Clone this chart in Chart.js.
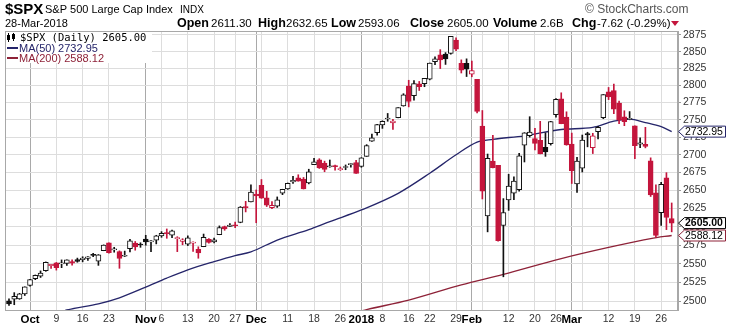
<!DOCTYPE html>
<html>
<head>
<meta charset="utf-8">
<script src="https://cdn.jsdelivr.net/npm/chart.js@4.4.1/dist/chart.umd.min.js"></script>
<style>
  html, body { margin: 0; padding: 0; background: #fff; }
  canvas { display: block; }
</style>
</head>
<body>
<canvas id="spx" width="730" height="328"></canvas>
<script>
// $SPX daily candles, 26-Sep-2017 .. 28-Mar-2018 (one entry per trading day, x = day index)
const PREV_CLOSE = 2496.66; // close of the day before the first candle

const OPEN = [
  2501.04, 2503.30, 2503.41, 2509.96,
  2521.20, 2530.34, 2533.48, 2540.86, 2547.44, 2551.39, 2549.99, 2550.62, 2552.88, 2555.66,
  2555.57, 2557.17, 2562.87, 2553.39, 2567.56, 2578.08, 2568.66, 2566.52, 2560.08, 2570.26,
  2577.75, 2575.99,
  2583.21, 2579.46, 2581.93, 2587.47, 2592.11, 2588.71, 2584.00, 2580.18, 2576.53, 2577.75,
  2569.45, 2572.95, 2582.94, 2579.49, 2589.17, 2600.31, 2600.42, 2602.66, 2605.94, 2627.82, 2633.93,
  2645.10, 2657.19, 2639.78, 2626.24, 2628.38, 2646.21, 2652.19, 2661.73, 2667.59, 2665.87,
  2660.63, 2685.92, 2692.71, 2688.18, 2683.02, 2684.22, 2679.09, 2682.10, 2686.10, 2689.15,
  2683.73, 2697.85, 2719.31, 2731.33, 2742.67, 2751.15, 2745.55, 2752.97, 2770.18, 2798.96,
  2784.99, 2802.40, 2802.60, 2809.16, 2835.05, 2845.42, 2846.24, 2847.48, 2867.23, 2832.74, 2832.41,
  2816.45, 2808.92, 2741.06, 2614.78, 2690.95, 2685.01, 2601.78, 2636.75, 2646.27, 2651.21,
  2713.46, 2727.14, 2722.99, 2720.53, 2710.42, 2715.80, 2757.37, 2780.45, 2753.78,
  2715.22, 2658.89, 2681.06, 2730.18, 2710.18, 2732.75, 2752.91, 2790.54, 2792.31, 2774.06,
  2754.27, 2750.57, 2741.38, 2715.05, 2714.99, 2691.36, 2646.71, 2619.35, 2667.57, 2611.30
];
const HIGH = [
  2503.51, 2511.75, 2510.81, 2519.44,
  2529.23, 2535.13, 2540.53, 2552.51, 2549.41, 2551.82, 2555.23, 2555.24, 2555.33, 2557.65,
  2559.47, 2559.71, 2564.11, 2562.36, 2575.44, 2578.29, 2572.18, 2567.40, 2567.07, 2582.98,
  2580.03, 2578.29,
  2588.40, 2581.11, 2588.42, 2593.38, 2597.02, 2595.47, 2586.50, 2583.81, 2587.66, 2579.66,
  2572.84, 2590.09, 2583.96, 2584.64, 2601.19, 2600.94, 2604.21, 2606.41, 2627.69, 2634.89, 2657.74,
  2650.62, 2665.19, 2648.72, 2634.41, 2640.99, 2651.65, 2660.33, 2669.72, 2671.88, 2668.09,
  2679.63, 2694.97, 2694.44, 2691.01, 2692.64, 2685.35, 2682.74, 2685.64, 2687.66, 2692.12,
  2695.89, 2714.37, 2729.29, 2743.45, 2748.51, 2759.14, 2750.80, 2767.56, 2787.85, 2807.54,
  2807.04, 2805.83, 2810.33, 2833.03, 2842.24, 2852.97, 2848.56, 2872.87, 2870.62, 2837.75, 2839.26,
  2835.96, 2808.92, 2763.39, 2701.04, 2727.67, 2685.27, 2638.67, 2672.61, 2668.84, 2702.10,
  2731.51, 2754.42, 2737.60, 2747.75, 2731.26, 2747.76, 2780.64, 2789.15, 2761.52,
  2730.89, 2696.25, 2728.09, 2732.08, 2730.60, 2740.45, 2786.57, 2796.98, 2801.90, 2777.11,
  2763.03, 2761.85, 2741.38, 2724.22, 2739.14, 2695.68, 2657.67, 2661.36, 2674.78, 2632.65
];
const LOW = [
  2495.12, 2495.91, 2502.93, 2507.99,
  2520.40, 2528.85, 2531.80, 2540.02, 2543.79, 2541.60, 2544.86, 2547.95, 2548.31, 2552.09,
  2552.64, 2554.69, 2559.67, 2547.92, 2567.56, 2564.33, 2565.58, 2544.00, 2559.80, 2565.94,
  2568.25, 2572.15,
  2574.92, 2566.17, 2576.77, 2585.66, 2584.35, 2585.02, 2566.33, 2575.57, 2574.48, 2566.56,
  2557.45, 2572.95, 2577.62, 2578.24, 2589.17, 2595.23, 2600.42, 2598.87, 2605.44, 2620.32, 2633.93,
  2605.52, 2639.03, 2627.73, 2624.75, 2626.53, 2644.10, 2651.47, 2659.78, 2662.85, 2652.01,
  2659.14, 2685.92, 2680.74, 2676.11, 2682.40, 2678.13, 2677.96, 2678.91, 2682.69, 2673.61,
  2682.36, 2697.77, 2719.07, 2727.92, 2737.60, 2747.86, 2736.06, 2752.78, 2769.64, 2768.64,
  2778.38, 2792.56, 2798.08, 2808.12, 2830.59, 2824.81, 2830.94, 2846.18, 2851.48, 2818.27, 2813.04,
  2812.70, 2759.97, 2638.17, 2593.07, 2681.33, 2580.56, 2532.69, 2622.45, 2637.08, 2648.87,
  2689.82, 2725.11, 2706.76, 2701.29, 2697.77, 2713.74, 2753.78, 2744.22, 2713.54,
  2659.65, 2647.32, 2675.75, 2711.26, 2701.74, 2722.65, 2751.54, 2779.26, 2758.68, 2744.38,
  2741.47, 2749.97, 2694.59, 2710.05, 2709.79, 2641.59, 2585.89, 2601.81, 2596.12, 2593.06
];
const CLOSE = [
  2496.84, 2507.04, 2510.06, 2519.36,
  2529.12, 2534.58, 2537.74, 2552.07, 2549.33, 2544.73, 2550.64, 2555.24, 2550.93, 2553.17,
  2557.64, 2559.36, 2561.26, 2562.10, 2575.21, 2564.98, 2569.13, 2557.15, 2560.40, 2581.07,
  2572.83, 2575.26,
  2579.36, 2579.85, 2587.84, 2591.13, 2590.64, 2594.38, 2584.62, 2582.30, 2584.84, 2578.87,
  2564.62, 2585.64, 2578.85, 2582.14, 2599.03, 2597.08, 2602.42, 2601.42, 2627.04, 2626.07, 2647.58,
  2642.22, 2639.44, 2629.57, 2629.27, 2636.98, 2651.50, 2659.99, 2664.11, 2662.85, 2652.01,
  2675.81, 2690.16, 2681.47, 2679.25, 2684.57, 2683.34, 2680.50, 2682.62, 2687.54, 2673.61,
  2695.81, 2713.06, 2723.99, 2743.15, 2747.71, 2751.29, 2748.23, 2767.56, 2786.24, 2776.42,
  2802.56, 2798.03, 2810.30, 2832.97, 2839.13, 2837.54, 2839.25, 2872.87, 2853.53, 2822.43, 2823.81,
  2821.98, 2762.13, 2648.94, 2695.14, 2681.66, 2581.00, 2619.55, 2656.00, 2662.94, 2698.63,
  2731.20, 2732.22, 2716.26, 2701.33, 2703.96, 2747.30, 2779.60, 2744.28, 2713.83,
  2677.67, 2691.25, 2720.94, 2728.12, 2726.80, 2738.97, 2786.57, 2783.02, 2765.31, 2749.48,
  2747.33, 2752.01, 2712.92, 2716.94, 2711.93, 2643.69, 2588.26, 2658.55, 2612.62, 2605.00
];

// moving averages (day index -> value)
const MA50_IDX = [9, 11, 17, 21, 26, 30, 34, 39, 43, 46, 51, 57, 61, 67, 74, 80, 85, 89, 92, 98, 105, 111, 115, 118, 121, 124, 126];
const MA50_VAL = [2484, 2489, 2497, 2505, 2519, 2531, 2542, 2553, 2561, 2566, 2582, 2596, 2607, 2623, 2646, 2674, 2700, 2718, 2722, 2727, 2736, 2739, 2748, 2751, 2746, 2740, 2732.95];
const MA200_IDX = [66, 68, 76, 86, 94, 105, 114, 122, 126];
const MA200_VAL = [2486, 2489.5, 2502, 2522, 2536, 2557, 2572, 2584, 2588.12];

const X_TICK_POS = [4, 9, 14, 19, 26, 29, 34, 39, 43, 47, 48, 53, 58, 63, 67, 71, 76, 80, 85, 88, 90, 95, 100, 104, 107, 109, 114, 119, 124];
const X_TICK_LABELS = ['Oct', '9', '16', '23', 'Nov', '6', '13', '20', '27', 'Dec', '', '11', '18', '26', '2018', '8', '16', '22', '29', 'Feb', '', '12', '20', '26', 'Mar', '', '12', '19', '26'];
const MONTH_LABELS = ['Oct', 'Nov', 'Dec', '2018', 'Feb', 'Mar'];
const Y_TICKS = [2500, 2525, 2550, 2575, 2600, 2625, 2650, 2675, 2700, 2725, 2750, 2775, 2800, 2825, 2850, 2875];

const SYMBOL = '$SPX', NAME = 'S&P 500 Large Cap Index', EXCHANGE = 'INDX';
const DATE_TEXT = '28-Mar-2018', VOLUME_TEXT = '2.6B';

const UP = '#111111', DOWN = '#c4153c', MA50_COLOR = '#25256a', MA200_COLOR = '#8e2238';
const SANS = '"Liberation Sans", Arial, sans-serif';
const MONO = '"DejaVu Sans Mono", monospace';

const n = CLOSE.length;
const last = n - 1;
const candleColor = CLOSE.map((c, i) => c >= (i ? CLOSE[i - 1] : PREV_CLOSE) ? UP : DOWN);
const candleFill = CLOSE.map((c, i) => c < OPEN[i] ? candleColor[i] : '#ffffff');
const bodies = CLOSE.map((c, i) => ({ x: i, y: [Math.min(OPEN[i], c), Math.max(OPEN[i], c)] }));
const wicks = CLOSE.map((c, i) => ({ x: i, y: [LOW[i], HIGH[i]] }));
const ma50 = MA50_IDX.map((x, i) => ({ x, y: MA50_VAL[i] }));
const ma200 = MA200_IDX.map((x, i) => ({ x, y: MA200_VAL[i] }));
const isMonth = i => MONTH_LABELS.includes(X_TICK_LABELS[i]);

function fmt(v) { return v.toFixed(2); }

// header above the plot, legend inside it, value tags on the price axis
const decorations = {
  id: 'decorations',
  beforeDatasetsDraw(chart) {
    const { ctx, chartArea: a } = chart;
    ctx.save();
    ctx.fillStyle = '#fff';
    ctx.fillRect(a.left + 1, a.top + 1, 146, 31);
    // little candle icon
    ctx.fillStyle = '#000';
    ctx.fillRect(7, 35, 3, 5); ctx.fillRect(8, 33, 1, 9);
    ctx.fillRect(12, 34, 3, 5); ctx.fillRect(13, 33, 1, 8);
    ctx.textBaseline = 'alphabetic';
    ctx.font = '10.5px ' + MONO;
    ctx.fillText(SYMBOL + ' (Daily) ' + fmt(CLOSE[last]), 20, 41);
    ctx.font = '11px ' + SANS;
    ctx.fillStyle = MA50_COLOR;
    ctx.fillRect(7, 47, 11, 2);
    ctx.fillText('MA(50) ' + fmt(MA50_VAL[MA50_VAL.length - 1]), 19, 52);
    ctx.fillStyle = MA200_COLOR;
    ctx.fillRect(7, 57, 11, 2);
    ctx.fillText('MA(200) ' + fmt(MA200_VAL[MA200_VAL.length - 1]), 19, 62);
    ctx.strokeStyle = '#a8a8a8';
    ctx.lineWidth = 1;
    ctx.strokeRect(a.left + 0.5, a.top + 0.5, a.right - a.left - 1, a.bottom - a.top);
    ctx.restore();
  },
  afterDraw(chart) {
    const { ctx, scales } = chart;
    ctx.save();
    ctx.textBaseline = 'alphabetic';
    ctx.fillStyle = '#000';
    ctx.font = 'bold 15px ' + SANS;
    ctx.fillText(SYMBOL, 5, 14);
    ctx.font = '11px ' + SANS;
    ctx.fillText(NAME, 45, 13);
    ctx.font = '10px ' + SANS;
    ctx.fillText(EXCHANGE, 180, 13);
    ctx.font = '11px ' + SANS;
    ctx.fillText(DATE_TEXT, 5, 27);
    ctx.fillStyle = '#555';
    ctx.font = '12px ' + SANS;
    ctx.fillText('\u00A9 StockCharts.com', 585, 13);

    const chg = CLOSE[last] - CLOSE[last - 1];
    const pct = chg / CLOSE[last - 1] * 100;
    const parts = [
      ['Open', 177, true], [fmt(OPEN[last]), 211, false],
      ['High', 258, true], [fmt(HIGH[last]), 286, false],
      ['Low', 331, true], [fmt(LOW[last]), 358, false],
      ['Close', 410, true], [fmt(CLOSE[last]), 447, false],
      ['Volume', 493, true], [VOLUME_TEXT, 540, false],
      ['Chg', 572, true], [chg.toFixed(2) + ' (' + pct.toFixed(2) + '%)', 597, false]
    ];
    ctx.fillStyle = '#000';
    parts.forEach(([t, x, b]) => {
      ctx.font = b ? 'bold 12.5px ' + SANS : '11.5px ' + SANS;
      ctx.fillText(t, x, 27);
    });
    ctx.fillStyle = chg < 0 ? DOWN : UP;
    ctx.beginPath();
    ctx.moveTo(671, 21); ctx.lineTo(679, 21); ctx.lineTo(675, 26); ctx.closePath();
    ctx.fill();

    // value tags on the right axis
    const y = scales.y;
    const tag = (v, color, bold) => {
      const py = y.getPixelForValue(v);
      ctx.beginPath();
      ctx.moveTo(678.5, py);
      ctx.lineTo(684.5, py - 5.5);
      ctx.lineTo(725.5, py - 5.5);
      ctx.lineTo(725.5, py + 5.5);
      ctx.lineTo(684.5, py + 5.5);
      ctx.closePath();
      ctx.fillStyle = '#fff';
      ctx.fill();
      ctx.strokeStyle = color;
      ctx.lineWidth = 1;
      ctx.stroke();
      ctx.fillStyle = '#000';
      ctx.font = (bold ? 'bold ' : '') + '10.5px ' + SANS;
      ctx.textBaseline = 'middle';
      ctx.fillText(fmt(v), 685, py + 0.5);
    };
    tag(MA50_VAL[MA50_VAL.length - 1], MA50_COLOR, false);
    tag(MA200_VAL[MA200_VAL.length - 1], MA200_COLOR, false);
    tag(CLOSE[last], '#000', true);
    ctx.restore();
  }
};

new Chart(document.getElementById('spx'), {
  type: 'bar',
  data: {
    datasets: [
      {
        label: 'body', data: bodies, backgroundColor: candleFill, borderColor: candleColor,
        borderWidth: 1, borderSkipped: false, barThickness: 5, minBarLength: 1, grouped: false, order: 0
      },
      {
        label: 'wick', data: wicks, backgroundColor: candleColor, borderWidth: 0,
        barThickness: 1, grouped: false, order: 1
      },
      {
        type: 'line', label: 'MA(50)', data: ma50, borderColor: MA50_COLOR, borderWidth: 1.3,
        pointRadius: 0, cubicInterpolationMode: 'monotone', order: 2
      },
      {
        type: 'line', label: 'MA(200)', data: ma200, borderColor: MA200_COLOR, borderWidth: 1.3,
        pointRadius: 0, cubicInterpolationMode: 'monotone', order: 3
      }
    ]
  },
  options: {
    responsive: false,
    animation: false,
    layout: { padding: { top: 31, left: 5, right: 0, bottom: 0 } },
    plugins: { legend: { display: false }, tooltip: { enabled: false } },
    scales: {
      x: {
        type: 'linear', min: -0.76, max: 127.2, offset: false,
        afterBuildTicks: s => { s.ticks = X_TICK_POS.map(v => ({ value: v })); },
        afterFit: s => { s.height = 18; },
        grid: {
          offset: false, drawTicks: false,
          color: c => isMonth(c.index) ? '#a9a9a9' : '#dddddd'
        },
        border: { color: '#a8a8a8' },
        ticks: {
          autoSkip: false, maxRotation: 0, padding: 3,
          callback: (v, i) => X_TICK_LABELS[i],
          font: c => isMonth(c.index)
            ? { family: SANS, size: 11.5, weight: 'bold' }
            : { family: SANS, size: 10.5 },
          color: c => isMonth(c.index) ? '#000' : '#333'
        }
      },
      y: {
        type: 'logarithmic', position: 'right', min: 2489, max: 2881,
        afterBuildTicks: s => { s.ticks = Y_TICKS.map(v => ({ value: v })); },
        afterFit: s => { s.width = 52; },
        grid: { color: '#dddddd', tickLength: 3, tickColor: '#999' },
        border: { color: '#a8a8a8' },
        ticks: {
          padding: 2, color: '#333',
          font: { family: SANS, size: 10.5 },
          callback: v => String(v)
        }
      }
    }
  },
  plugins: [decorations]
});
</script>
</body>
</html>
